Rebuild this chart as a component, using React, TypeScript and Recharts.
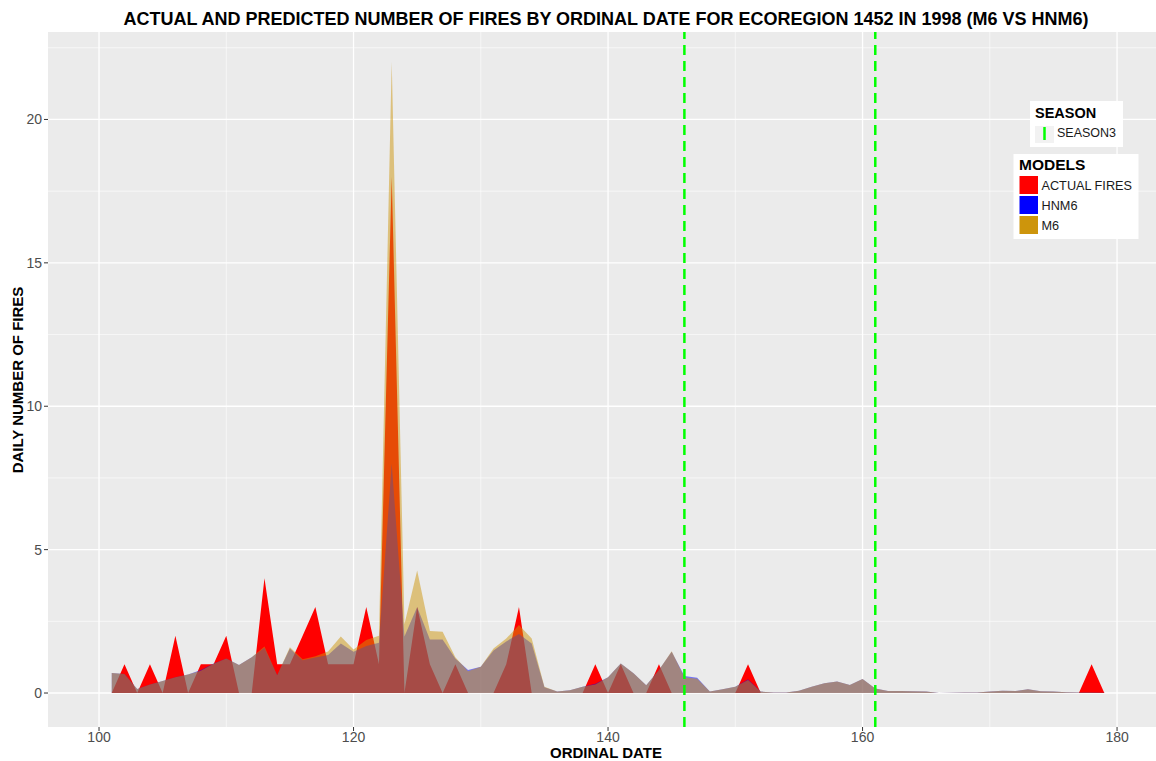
import { AreaChart, Area, XAxis, YAxis, CartesianGrid, ReferenceLine } from "recharts";

// ordinal day of year, 1998
const days = [
  101, 102, 103, 104, 105, 106, 107, 108, 109, 110,
  111, 112, 113, 114, 115, 116, 117, 118, 119, 120,
  121, 122, 123, 124, 125, 126, 127, 128, 129, 130,
  131, 132, 133, 134, 135, 136, 137, 138, 139, 140,
  141, 142, 143, 144, 145, 146, 147, 148, 149, 150,
  151, 152, 153, 154, 155, 156, 157, 158, 159, 160,
  161, 162, 163, 164, 165, 166, 167, 168, 169, 170,
  171, 172, 173, 174, 175, 176, 177, 178, 179,
];

const actualFires = [
  0, 1, 0, 1, 0, 2, 0, 1, 1, 2,
  0, 0, 4, 1, 1, 2, 3, 1, 1, 1,
  3, 1, 18, 0, 3, 1, 0, 1, 0, 0,
  0, 1, 3, 0, 0, 0, 0, 0, 1, 0,
  1, 0, 0, 1, 0, 0, 0, 0, 0, 0,
  1, 0, 0, 0, 0, 0, 0, 0, 0, 0,
  0, 0, 0, 0, 0, 0, 0, 0, 0, 0,
  0, 0, 0, 0, 0, 0, 0, 1, 0,
];

const hnm6 = [
  0.7, 0.66, 0.14, 0.3, 0.42, 0.55, 0.65, 0.8, 1.03, 1.2,
  0.98, 1.25, 1.58, 0.62, 1.55, 1.14, 1.24, 1.33, 1.73, 1.44,
  1.64, 1.75, 8.0, 1.97, 3.0, 1.87, 1.87, 1.2, 0.8, 0.92,
  1.48, 1.8, 2.06, 1.73, 0.2, 0.05, 0.1, 0.22, 0.32, 0.55,
  1.03, 0.69, 0.27, 0.8, 1.44, 0.59, 0.53, 0.05, 0.13, 0.22,
  0.48, 0.05, 0.02, 0.02, 0.08, 0.22, 0.34, 0.4, 0.28, 0.49,
  0.16, 0.07, 0.07, 0.06, 0.05, 0.0, 0.01, 0.02, 0.02, 0.05,
  0.08, 0.07, 0.13, 0.06, 0.05, 0.03, 0.02, 0.02, 0.01,
];

const m6 = [
  0.7, 0.66, 0.14, 0.3, 0.42, 0.55, 0.65, 0.78, 1.02, 1.2,
  0.98, 1.25, 1.62, 0.62, 1.6, 1.18, 1.28, 1.45, 1.97, 1.52,
  1.85, 2.0, 22.0, 2.4, 4.27, 2.16, 2.14, 1.25, 0.76, 0.92,
  1.55, 1.9, 2.37, 1.9, 0.22, 0.05, 0.1, 0.22, 0.3, 0.55,
  1.03, 0.69, 0.27, 0.8, 1.46, 0.55, 0.5, 0.05, 0.13, 0.22,
  0.45, 0.05, 0.02, 0.02, 0.08, 0.22, 0.34, 0.4, 0.28, 0.49,
  0.16, 0.07, 0.07, 0.06, 0.05, 0.0, 0.01, 0.02, 0.02, 0.05,
  0.08, 0.07, 0.13, 0.06, 0.05, 0.03, 0.02, 0.02, 0.01,
];

const xTicks = [100, 120, 140, 160, 180];
const xMinor = [110, 130, 150, 170];
const yTicks = [0, 5, 10, 15, 20];
const yMinor = [2.5, 7.5, 12.5, 17.5, 22.5];
const seasonBounds = [146, 161];

const models = [
  { key: "actual", name: "ACTUAL FIRES", color: "#FF0000", opacity: 1 },
  { key: "hnm6", name: "HNM6", color: "#0000FF", opacity: 0.5 },
  { key: "m6", name: "M6", color: "#CD950C", opacity: 0.5 },
];

const data = days.map((day, i) => ({
  day,
  actual: actualFires[i],
  hnm6: hnm6[i],
  m6: m6[i],
}));

const FONT = "'Liberation Sans', Arial, Helvetica, sans-serif";
const tickStyle = { fill: "#4D4D4D", fontSize: 14, fontFamily: FONT };

export default function App() {
  return (
    <div style={{ position: "absolute", left: 0, top: 0, width: 1156, height: 761, background: "#fff", fontFamily: FONT }}>
      <AreaChart width={1156} height={761} data={data} margin={{ top: 32, right: 0, bottom: 0, left: 0 }}>
        <CartesianGrid
          fill="#EBEBEB"
          stroke="#FFFFFF"
          strokeWidth={1.3}
          horizontalValues={yTicks}
          verticalValues={xTicks}
        />
        <CartesianGrid
          stroke="#FFFFFF"
          strokeWidth={0.6}
          horizontalValues={yMinor}
          verticalValues={xMinor}
        />
        <XAxis
          type="number"
          dataKey="day"
          domain={[95.99, 183.06]}
          ticks={xTicks}
          allowDataOverflow
          height={34}
          axisLine={false}
          tickLine={{ stroke: "#333333" }}
          tickSize={4}
          tickMargin={1}
          tick={tickStyle}
        />
        <YAxis
          type="number"
          domain={[-1.185, 23.05]}
          ticks={yTicks}
          allowDataOverflow
          width={48}
          axisLine={false}
          tickLine={{ stroke: "#333333" }}
          tickSize={4}
          tickMargin={2}
          tick={tickStyle}
        />
        {models.map((m) => (
          <Area
            key={m.key}
            type="linear"
            dataKey={m.key}
            name={m.name}
            stroke="none"
            fill={m.color}
            fillOpacity={m.opacity}
            baseValue={0}
            dot={false}
            activeDot={false}
            isAnimationActive={false}
          />
        ))}
        {seasonBounds.map((x) => (
          <ReferenceLine key={x} x={x} stroke="#00FF00" strokeWidth={2.5} strokeDasharray="10 6" />
        ))}
      </AreaChart>

      <svg width={1156} height={761} style={{ position: "absolute", left: 0, top: 0, pointerEvents: "none" }}>
        <text x={606} y={25} textAnchor="middle" fontSize={18} fontWeight="bold" fill="#000" fontFamily={FONT}>
          ACTUAL AND PREDICTED NUMBER OF FIRES BY ORDINAL DATE FOR ECOREGION 1452 IN 1998 (M6 VS HNM6)
        </text>
        <text x={606} y={758} textAnchor="middle" fontSize={15} fontWeight="bold" fill="#000" fontFamily={FONT}>
          ORDINAL DATE
        </text>
        <text
          x={0}
          y={0}
          transform="translate(22.5, 380) rotate(-90)"
          textAnchor="middle"
          fontSize={15}
          fontWeight="bold"
          fill="#000"
          fontFamily={FONT}
        >
          DAILY NUMBER OF FIRES
        </text>

        {/* season legend */}
        <rect x={1030} y={101} width={93} height={46} fill="#FFFFFF" />
        <text x={1035} y={117.5} fontSize={14.5} fontWeight="bold" fill="#000" fontFamily={FONT}>
          SEASON
        </text>
        <rect x={1035} y={126} width={19} height={17} fill="#F2F2F2" />
        <line x1={1044.5} y1={127} x2={1044.5} y2={140} stroke="#00FF00" strokeWidth={2.5} />
        <text x={1057} y={137} fontSize={12.5} fill="#1A1A1A" fontFamily={FONT}>
          SEASON3
        </text>

        {/* models legend */}
        <rect x={1013.5} y={154} width={125} height={85} fill="#FFFFFF" />
        <text x={1019} y={170} fontSize={15.5} fontWeight="bold" fill="#000" fontFamily={FONT}>
          MODELS
        </text>
        {models.map((m, i) => (
          <g key={m.key}>
            <rect x={1019.5} y={176 + i * 20} width={18.5} height={18} fill={m.color} />
            <text x={1041.5} y={190 + i * 20} fontSize={12.7} fill="#1A1A1A" fontFamily={FONT}>
              {m.name}
            </text>
          </g>
        ))}
      </svg>
    </div>
  );
}
